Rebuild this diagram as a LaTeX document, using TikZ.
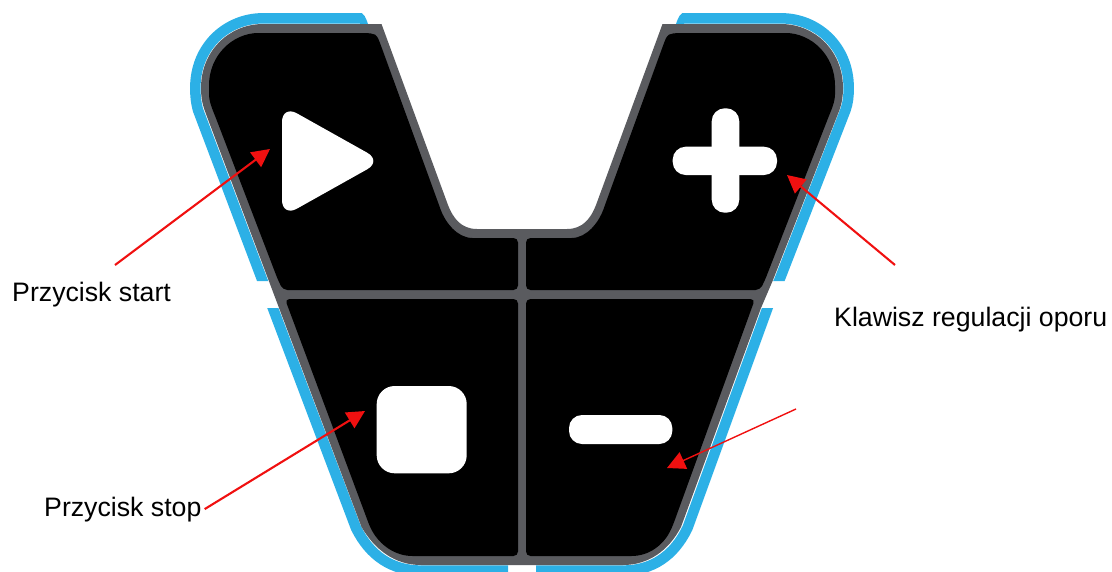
\documentclass[tikz,border=0pt]{standalone}
\usepackage{fontspec}
\setmainfont{Liberation Sans}
\usetikzlibrary{arrows.meta}
\definecolor{skin}{HTML}{5A5B5F}
\definecolor{rim}{HTML}{2CB0E6}
\definecolor{pointer}{HTML}{F01010}
\tikzset{
  rimline/.style={draw=rim,line width=10.5pt},
  panel/.style={fill=black,rounded corners=4.5pt},
  glyph/.style={fill=white},
  ptr/.style={draw=pointer,line width=2.1pt,-{Triangle[length=18pt,width=18pt]}},
  lbl/.style={font=\fontsize{26.7}{30}\selectfont,inner sep=0pt,text=black}
}
\begin{document}
\begin{tikzpicture}[x=1pt,y=-1pt]
\useasboundingbox (0,0) rectangle (1112,571);
% blue rim, left half
\begin{scope}
  \clip (100,0) rectangle (522,281) (100,308) rectangle (522,575);
  \draw[rimline] (362,18.3) -- (263,18.3) .. controls (227,18.3) and (195.3,46) .. (195.3,88)
    .. controls (195.3,96) and (196,103) .. (198,110) -- (356,528)
    .. controls (370,556) and (392,570.6) .. (421,570.6) -- (508,570.6);
\end{scope}
\fill[rim] (360,13) .. controls (364,13) and (366,18) .. (368,24) -- (360,24) -- cycle;
% blue rim, right half
\begin{scope}
  \clip (522,0) rectangle (1000,281) (522,308) rectangle (1000,575);
  \draw[rimline] (682,18.3) -- (781,18.3) .. controls (817,18.3) and (848.7,46) .. (848.7,88)
    .. controls (848.7,96) and (848,103) .. (845.5,110) -- (779,281) -- (772,296) -- (767.5,308)
    -- (687.5,528)
    .. controls (674,556) and (652,570.6) .. (623,570.6) -- (536,570.6);
\end{scope}
\fill[rim] (684,13) .. controls (680,13) and (678,18) .. (676,24) -- (684,24) -- cycle;
% body
\fill[skin] (381.5,24) -- (448,205) .. controls (453,218) and (461,229) .. (477,229)
  -- (567,229) .. controls (583,229) and (591,218) .. (596,205) -- (662.5,24)
  -- (781,24) .. controls (814,24) and (843,50) .. (843,88)
  .. controls (843,96) and (842,103) .. (839.5,110) -- (773,280) -- (761,308) -- (681,527)
  .. controls (669,550) and (649,565) .. (623,565) -- (421,565)
  .. controls (395,565) and (375,550) .. (361.5,527) -- (204.5,110)
  .. controls (202,103) and (201,96) .. (201,88)
  .. controls (201,50) and (230,24) .. (263,24) -- cycle;
% black panels
\path[panel] (371,33) .. controls (376,35) and (378,38) .. (380,43) -- (439,205)
   .. controls (445,222) and (457,238) .. (477,238) -- (518,238) -- (518,290) -- (283,290) -- (278,280)
   -- (215.5,117) .. controls (211,106) and (209,100) .. (209,90)
   .. controls (209,55) and (233,33) .. (263,33) -- cycle;
\path[panel] (518,299) -- (518,556) -- (417,556) .. controls (395,556) and (380,545) .. (370,527)
   -- (285,299) -- cycle;
\path[panel] (673,33) .. controls (668,35) and (666,38) .. (664,43) -- (605,205)
   .. controls (599,222) and (587,238) .. (567,238) -- (526,238) -- (526,290) -- (760,290) -- (765,280)
   -- (828.5,117) .. controls (833,106) and (835,100) .. (835,90)
   .. controls (835,55) and (811,33) .. (781,33) -- cycle;
\path[panel] (526,299) -- (526,556) -- (627,556) .. controls (649,556) and (664,545) .. (673,525)
   -- (755,299) -- cycle;
% glyphs
\path[glyph,rounded corners=17pt] (282,105) -- (382,161) -- (282,217) -- cycle;
\path[glyph,rounded corners=13pt] (672.7,146.7) rectangle (777,175);
\path[glyph,rounded corners=13pt] (711.7,108.3) rectangle (739.3,212.7);
\path[glyph,rounded corners=18pt] (376.7,386) rectangle (466.7,473.3);
\path[glyph,rounded corners=13pt] (569,415) rectangle (672.3,444);
% labels
\node[lbl,anchor=base west] (start) at (12,301) {Przycisk start};
\node[lbl,anchor=base west] (stop) at (44,516) {Przycisk stop};
\node[lbl,anchor=base west] (klawisz) at (834,326) {Klawisz regulacji oporu};
% pointers
\coordinate (a1) at (115,265); \coordinate (b1) at (270,149);
\coordinate (b2) at (365,411);
\coordinate (a3) at (895,265); \coordinate (b3) at (787,175);
\coordinate (a4) at (796,409); \coordinate (b4) at (667,468);
\draw[ptr] (a1) -- (b1);
\draw[ptr] (stop.east) ++(3,0) -- (b2);
\draw[ptr] (a3) -- (b3);
\draw[ptr,line width=1.4pt] (a4) -- (b4);
\end{tikzpicture}
\end{document}
